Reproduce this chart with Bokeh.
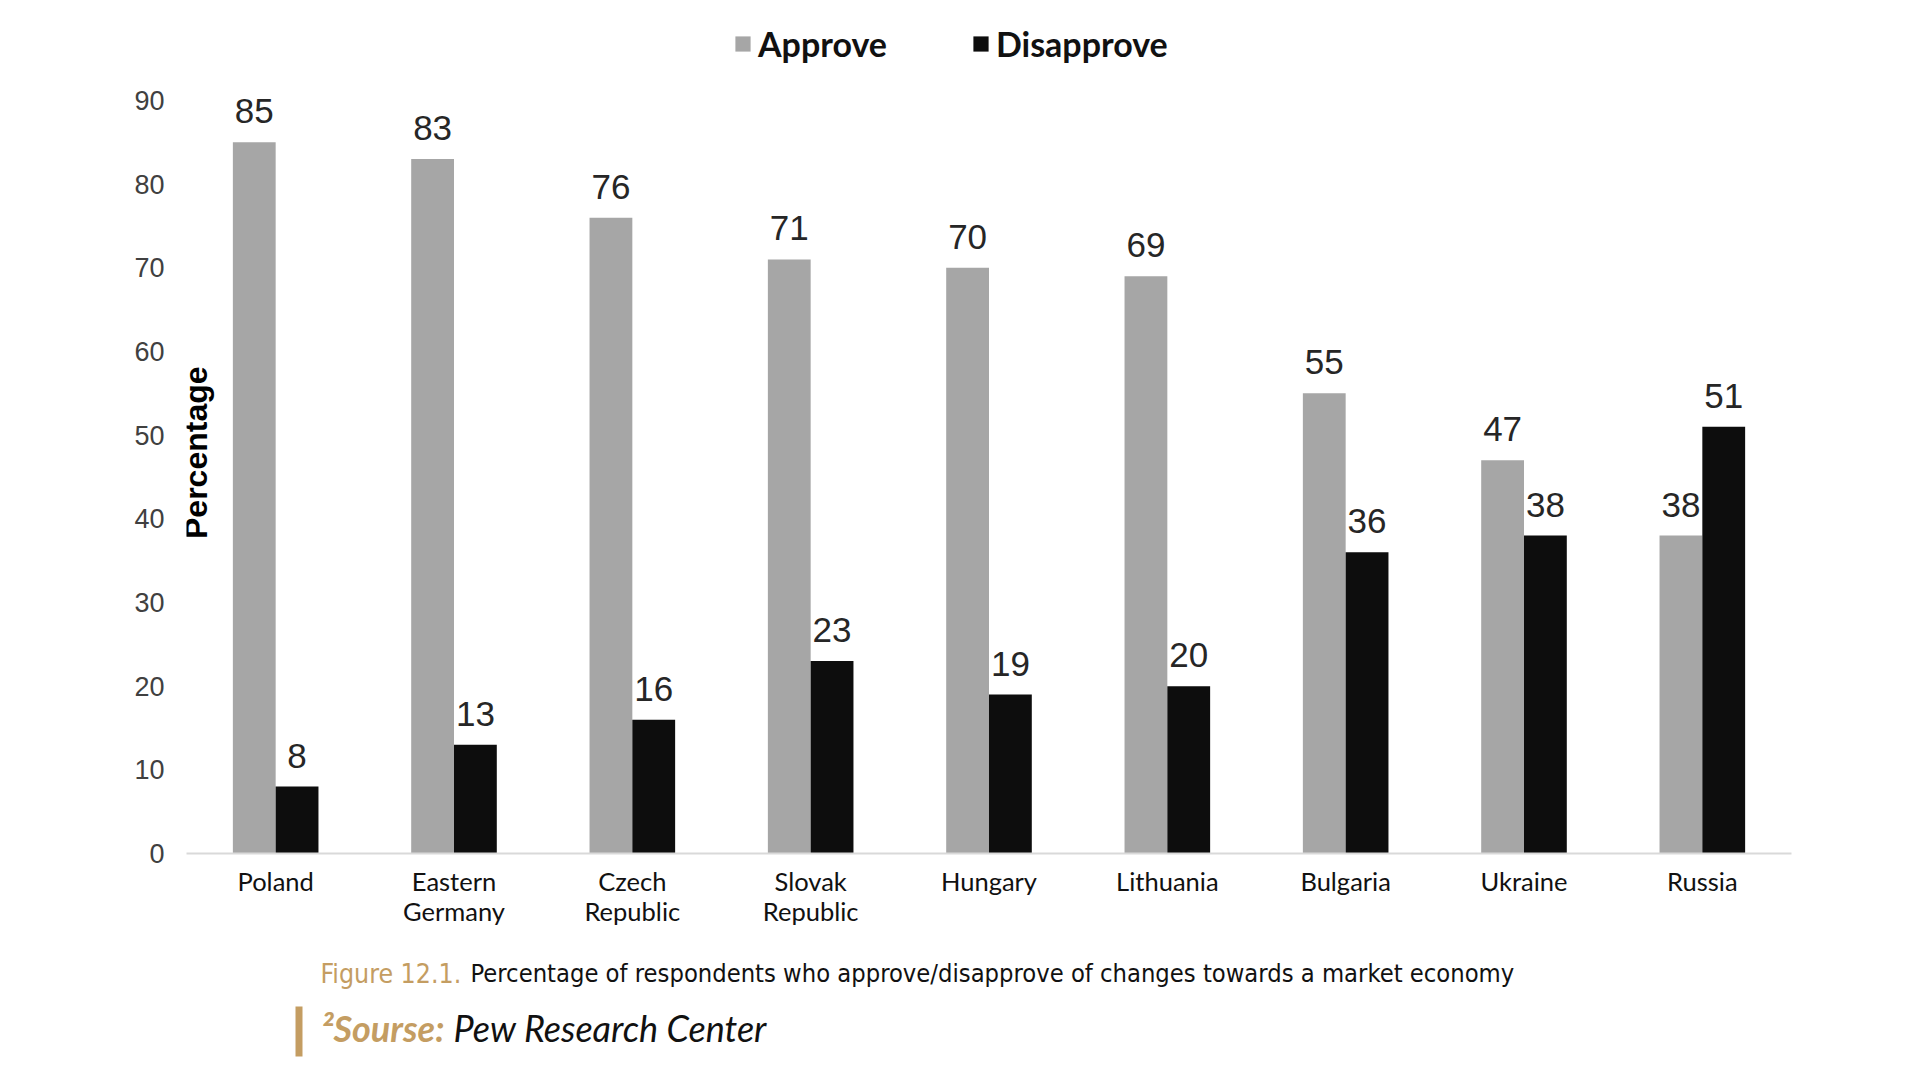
from bokeh.plotting import figure
from bokeh.models import (ColumnDataSource, FactorRange, Range1d, FixedTicker,
                          Legend, LegendItem, Label)
from bokeh.transform import dodge
from bokeh.layouts import column
from bokeh.core.properties import value
from bokeh.embed import file_html
from bokeh.resources import INLINE
import math

# ---------------- data ----------------
categories = ["Poland", "Eastern\nGermany", "Czech\nRepublic", "Slovak\nRepublic",
              "Hungary", "Lithuania", "Bulgaria", "Ukraine", "Russia"]
approve = [85, 83, 76, 71, 70, 69, 55, 47, 38]
disapprove = [8, 13, 16, 23, 19, 20, 36, 38, 51]
y_ticks = [0, 10, 20, 30, 40, 50, 60, 70, 80, 90]
series_names = ["Approve", "Disapprove"]
y_axis_title = "Percentage"
caption_head = "Figure 12.1."
caption_body = "Percentage of respondents who approve/disapprove of changes towards a market economy"
source_head = "\u00b2Sourse:"
source_body = "Pew Research Center"

GRAY = "#a6a6a6"
BLACK = "#0d0d0d"
GOLD = "#c49d62"

src = ColumnDataSource(dict(cat=categories, approve=approve, disapprove=disapprove,
                            approve_lbl=[str(v) for v in approve],
                            disapprove_lbl=[str(v) for v in disapprove]))

W = 1904
FL, FR = 186, 1791          # frame left/right (px)
FT, FB = 15, 853            # frame top / bottom (px)
H_MAIN = 940
H_CAP = 124
y_end = 90 * (FB - FT) / (FB - 100)   # value 90 sits at y=100 px

p = figure(width=W, height=H_MAIN, x_range=FactorRange(factors=categories, range_padding=0),
           y_range=Range1d(0, y_end), output_backend="svg", toolbar_location=None,
           min_border_left=FL, min_border_right=W - FR,
           min_border_top=FT, min_border_bottom=H_MAIN - FB)
p.outline_line_color = None
p.xgrid.grid_line_color = None
p.ygrid.grid_line_color = None
p.background_fill_color = "white"
p.border_fill_color = "white"

bw = 0.24
r1 = p.vbar(x=dodge("cat", -bw / 2, range=p.x_range), top="approve", width=bw, source=src,
            fill_color=GRAY, line_color=None)
r2 = p.vbar(x=dodge("cat", bw / 2, range=p.x_range), top="disapprove", width=bw, source=src,
            fill_color=BLACK, line_color=None)

lbl_font = value("Liberation Sans")
p.text(x=dodge("cat", -bw / 2, range=p.x_range), y="approve", text="approve_lbl", source=src,
       text_align="center", text_baseline="bottom", y_offset=-19, text_font=lbl_font,
       text_font_size="35px", text_color="#262626")
p.text(x=dodge("cat", bw / 2, range=p.x_range), y="disapprove", text="disapprove_lbl", source=src,
       text_align="center", text_baseline="bottom", y_offset=-19, text_font=lbl_font,
       text_font_size="35px", text_color="#262626")

# axes
p.yaxis.ticker = FixedTicker(ticks=y_ticks)
p.yaxis.axis_line_color = None
p.yaxis.major_tick_line_color = None
p.yaxis.minor_tick_line_color = None
p.yaxis.major_label_standoff = 16
p.yaxis.major_label_text_font = "Liberation Sans"
p.yaxis.major_label_text_font_size = "27px"
p.yaxis.major_label_text_color = "#404040"

p.xaxis.axis_line_color = "#d9d9d9"
p.xaxis.axis_line_width = 2
p.xaxis.major_tick_line_color = None
p.xaxis.minor_tick_line_color = None
p.xaxis.major_label_standoff = 6
p.xaxis.major_label_text_font = "Lato"
p.xaxis.major_label_text_font_size = "25.5px"
p.xaxis.major_label_text_color = "#111111"
p.xaxis.major_label_text_line_height = 1.0

p.add_layout(Label(x=0.052, y=47.9, text=y_axis_title, angle=math.pi / 2,
                   text_align="center", text_baseline="middle",
                   text_font="Liberation Sans", text_font_style="bold",
                   text_font_size="32px", text_color="#000000"))

legend = Legend(items=[LegendItem(label=series_names[0], renderers=[r1]),
                       LegendItem(label=series_names[1], renderers=[r2])],
                orientation="horizontal", location=(547, 789),
                glyph_width=19, glyph_height=19, label_standoff=6, spacing=84,
                padding=0, margin=0, border_line_color=None, background_fill_alpha=0,
                label_text_font="Lato", label_text_font_style="bold",
                label_text_font_size="34px", label_text_color="#111111")
p.add_layout(legend, "center")

# ---------------- caption (frame aligned with main frame; coords in px) ----------------
c = figure(width=W, height=H_CAP, x_range=Range1d(FL, FR), y_range=Range1d(H_MAIN + H_CAP, H_MAIN),
           output_backend="svg", toolbar_location=None,
           min_border_left=FL, min_border_right=W - FR, min_border_top=0, min_border_bottom=0)
c.axis.visible = False
c.grid.visible = False
c.outline_line_color = None

cap_font = value("DejaVu Sans Condensed")
c.text(x=[320], y=[973], text=[caption_head], text_font=cap_font, text_font_size="26.5px",
       text_color=GOLD, text_baseline="middle", text_align="left")
c.text(x=[470], y=[973], text=[caption_body], text_font=cap_font, text_font_size="25.3px",
       text_color="#111111", text_baseline="middle", text_align="left")
c.quad(left=[295], right=[302], top=[1006], bottom=[1056], fill_color=GOLD, line_color=None)
c.text(x=[321], y=[1027], text=[source_head], text_font=value("Lato"), text_font_size="36px",
       text_font_style="bold italic", text_color=GOLD, text_baseline="middle", text_align="left")
c.text(x=[453], y=[1027], text=[source_body], text_font=value("Lato"), text_font_size="36px",
       text_font_style="italic", text_color="#111111", text_baseline="middle", text_align="left")

layout = column(p, c, spacing=0)
open("out.html", "w").write(file_html(layout, INLINE))
